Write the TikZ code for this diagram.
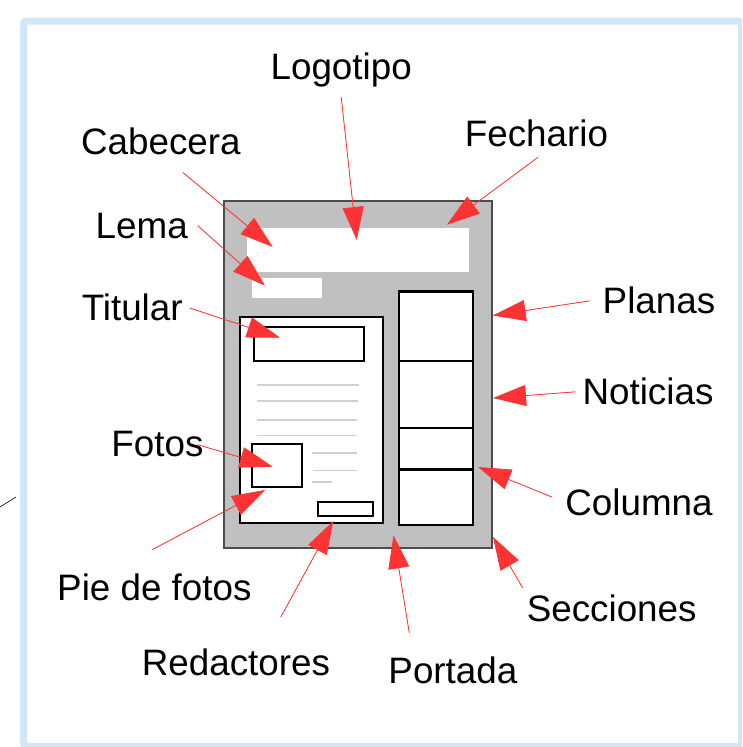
\documentclass[tikz,border=0pt]{standalone}
\usepackage{fontspec}
\setmainfont{Liberation Sans}
\usetikzlibrary{arrows.meta}
\definecolor{arrowred}{RGB}{255,51,51}
\definecolor{framebl}{RGB}{210,231,245}
\definecolor{pagegray}{RGB}{192,192,192}
\definecolor{linegray}{RGB}{208,208,208}
\begin{document}
\begin{tikzpicture}[
        x=1pt, y=-1pt,
        lbl/.style={inner sep=0pt, anchor=base, font=\fontsize{36.8}{44}\selectfont},
        arrow/.style={-{Triangle[length=33pt,width=21pt]}, draw=arrowred, fill=arrowred, line width=0.8pt},
        boxline/.style={draw=black, line width=2pt},
        textline/.style={draw=linegray, line width=1.5pt}
    ]
        \useasboundingbox (0,0) rectangle (742,747);
        \clip (0,0) rectangle (742,747);

        % Marco
        \draw[framebl, line width=7pt, rounded corners=3pt] (23.5,21) rectangle (741.5,746.5);
        \draw[black, line width=0.6pt] (0,507) -- (16,497);

        % Pagina
        \draw[fill=pagegray, draw=black!70, line width=1.2pt] (224,201) rectangle (492,548);
        \fill[white] (246.7,228) rectangle (469.3,271.7);
        \fill[white] (252,278) rectangle (322,298);

        % Columna izquierda
        \draw[boxline, fill=white] (240,316.7) rectangle (382.7,523);
        \draw[boxline] (254,327) rectangle (363.7,361);
        \draw[textline] (256.7,385) -- (358.7,385);
        \draw[textline] (256.7,401) -- (357.7,401);
        \draw[textline] (256.7,420) -- (357,420);
        \draw[textline] (257,435.7) -- (357,435.7);
        \draw[boxline] (252,444) rectangle (301.7,487);
        \draw[textline] (312,453) -- (356.7,453);
        \draw[textline] (313,470.7) -- (356.7,470.7);
        \draw[textline] (312,482) -- (331.7,482);
        \draw[boxline] (318,501.7) rectangle (373,515.7);

        % Columna derecha
        \draw[boxline, fill=white, line width=2.5pt] (399,291.7) rectangle (473,525);
        \draw[boxline, line width=2.5pt] (399,361) -- (473,361);
        \draw[boxline, line width=2.5pt] (399,428) -- (473,428);
        \draw[boxline, line width=2.5pt] (399,469.3) -- (473,469.3);

        % Etiquetas
        \node[lbl] (logo) at (341.2,79) {Logotipo};
        \node[lbl] (cab) at (160.9,154) {Cabecera};
        \node[lbl] (fech) at (536.4,146.7) {Fechario};
        \node[lbl] (lema) at (141.7,238) {Lema};
        \node[lbl] (tit) at (132.2,320.7) {Titular};
        \node[lbl] (fotos) at (157.4,456.7) {Fotos};
        \node[lbl] (pie) at (154.4,600) {Pie de fotos};
        \node[lbl] (red) at (235.9,675.7) {Redactores};
        \node[lbl] (port) at (452.9,683.3) {Portada};
        \node[lbl] (secc) at (611.7,621.7) {Secciones};
        \node[lbl] (col) at (639,515) {Columna};
        \node[lbl] (noti) at (648,404) {Noticias};
        \node[lbl] (plan) at (659,313) {Planas};

        % Puntas
        \coordinate (logo-t) at (356.7,240);
        \coordinate (cab-t) at (272.7,247);
        \coordinate (fech-t) at (447,224.7);
        \coordinate (lema-t) at (265,285.7);
        \coordinate (tit-t) at (280,337.7);
        \coordinate (fotos-t) at (272.7,466.7);
        \coordinate (pie-t) at (265,490);
        \coordinate (red-t) at (333.3,521);
        \coordinate (port-t) at (393.5,535.5);
        \coordinate (secc-t) at (493,537);
        \coordinate (col-t) at (478,467);
        \coordinate (noti-t) at (493,398);
        \coordinate (plan-t) at (492.7,315.5);

        % Flechas
        \draw[arrow] ([shift={(0,10)}]logo.south) -- (logo-t);
        \draw[arrow] ([shift={(22,18)}]cab.south) -- (cab-t);
        \draw[arrow] ([shift={(1.6,10)}]fech.south) -- (fech-t);
        \draw[arrow] ([shift={(9.6,0)}]lema.east) -- (lema-t);
        \draw[arrow] ([shift={(7,0.5)}]tit.east) -- (tit-t);
        \draw[arrow] ([shift={(-6,0.5)}]fotos.east) -- (fotos-t);
        \draw[arrow] ([shift={(-2,-23.6)}]pie.north) -- (pie-t);
        \draw[arrow] ([shift={(44.8,-31.6)}]red.north) -- (red-t);
        \draw[arrow] ([shift={(-43.6,-23.6)}]port.north) -- (port-t);
        \draw[arrow] ([shift={(-4,-7)}]secc.north west) -- (secc-t);
        \draw[arrow] ([shift={(-13.3,-4.8)}]col.west) -- (col-t);
        \draw[arrow] ([shift={(-7.3,1)}]noti.west) -- (noti-t);
        \draw[arrow] ([shift={(-13,1)}]plan.west) -- (plan-t);

    \end{tikzpicture}
\end{document}
